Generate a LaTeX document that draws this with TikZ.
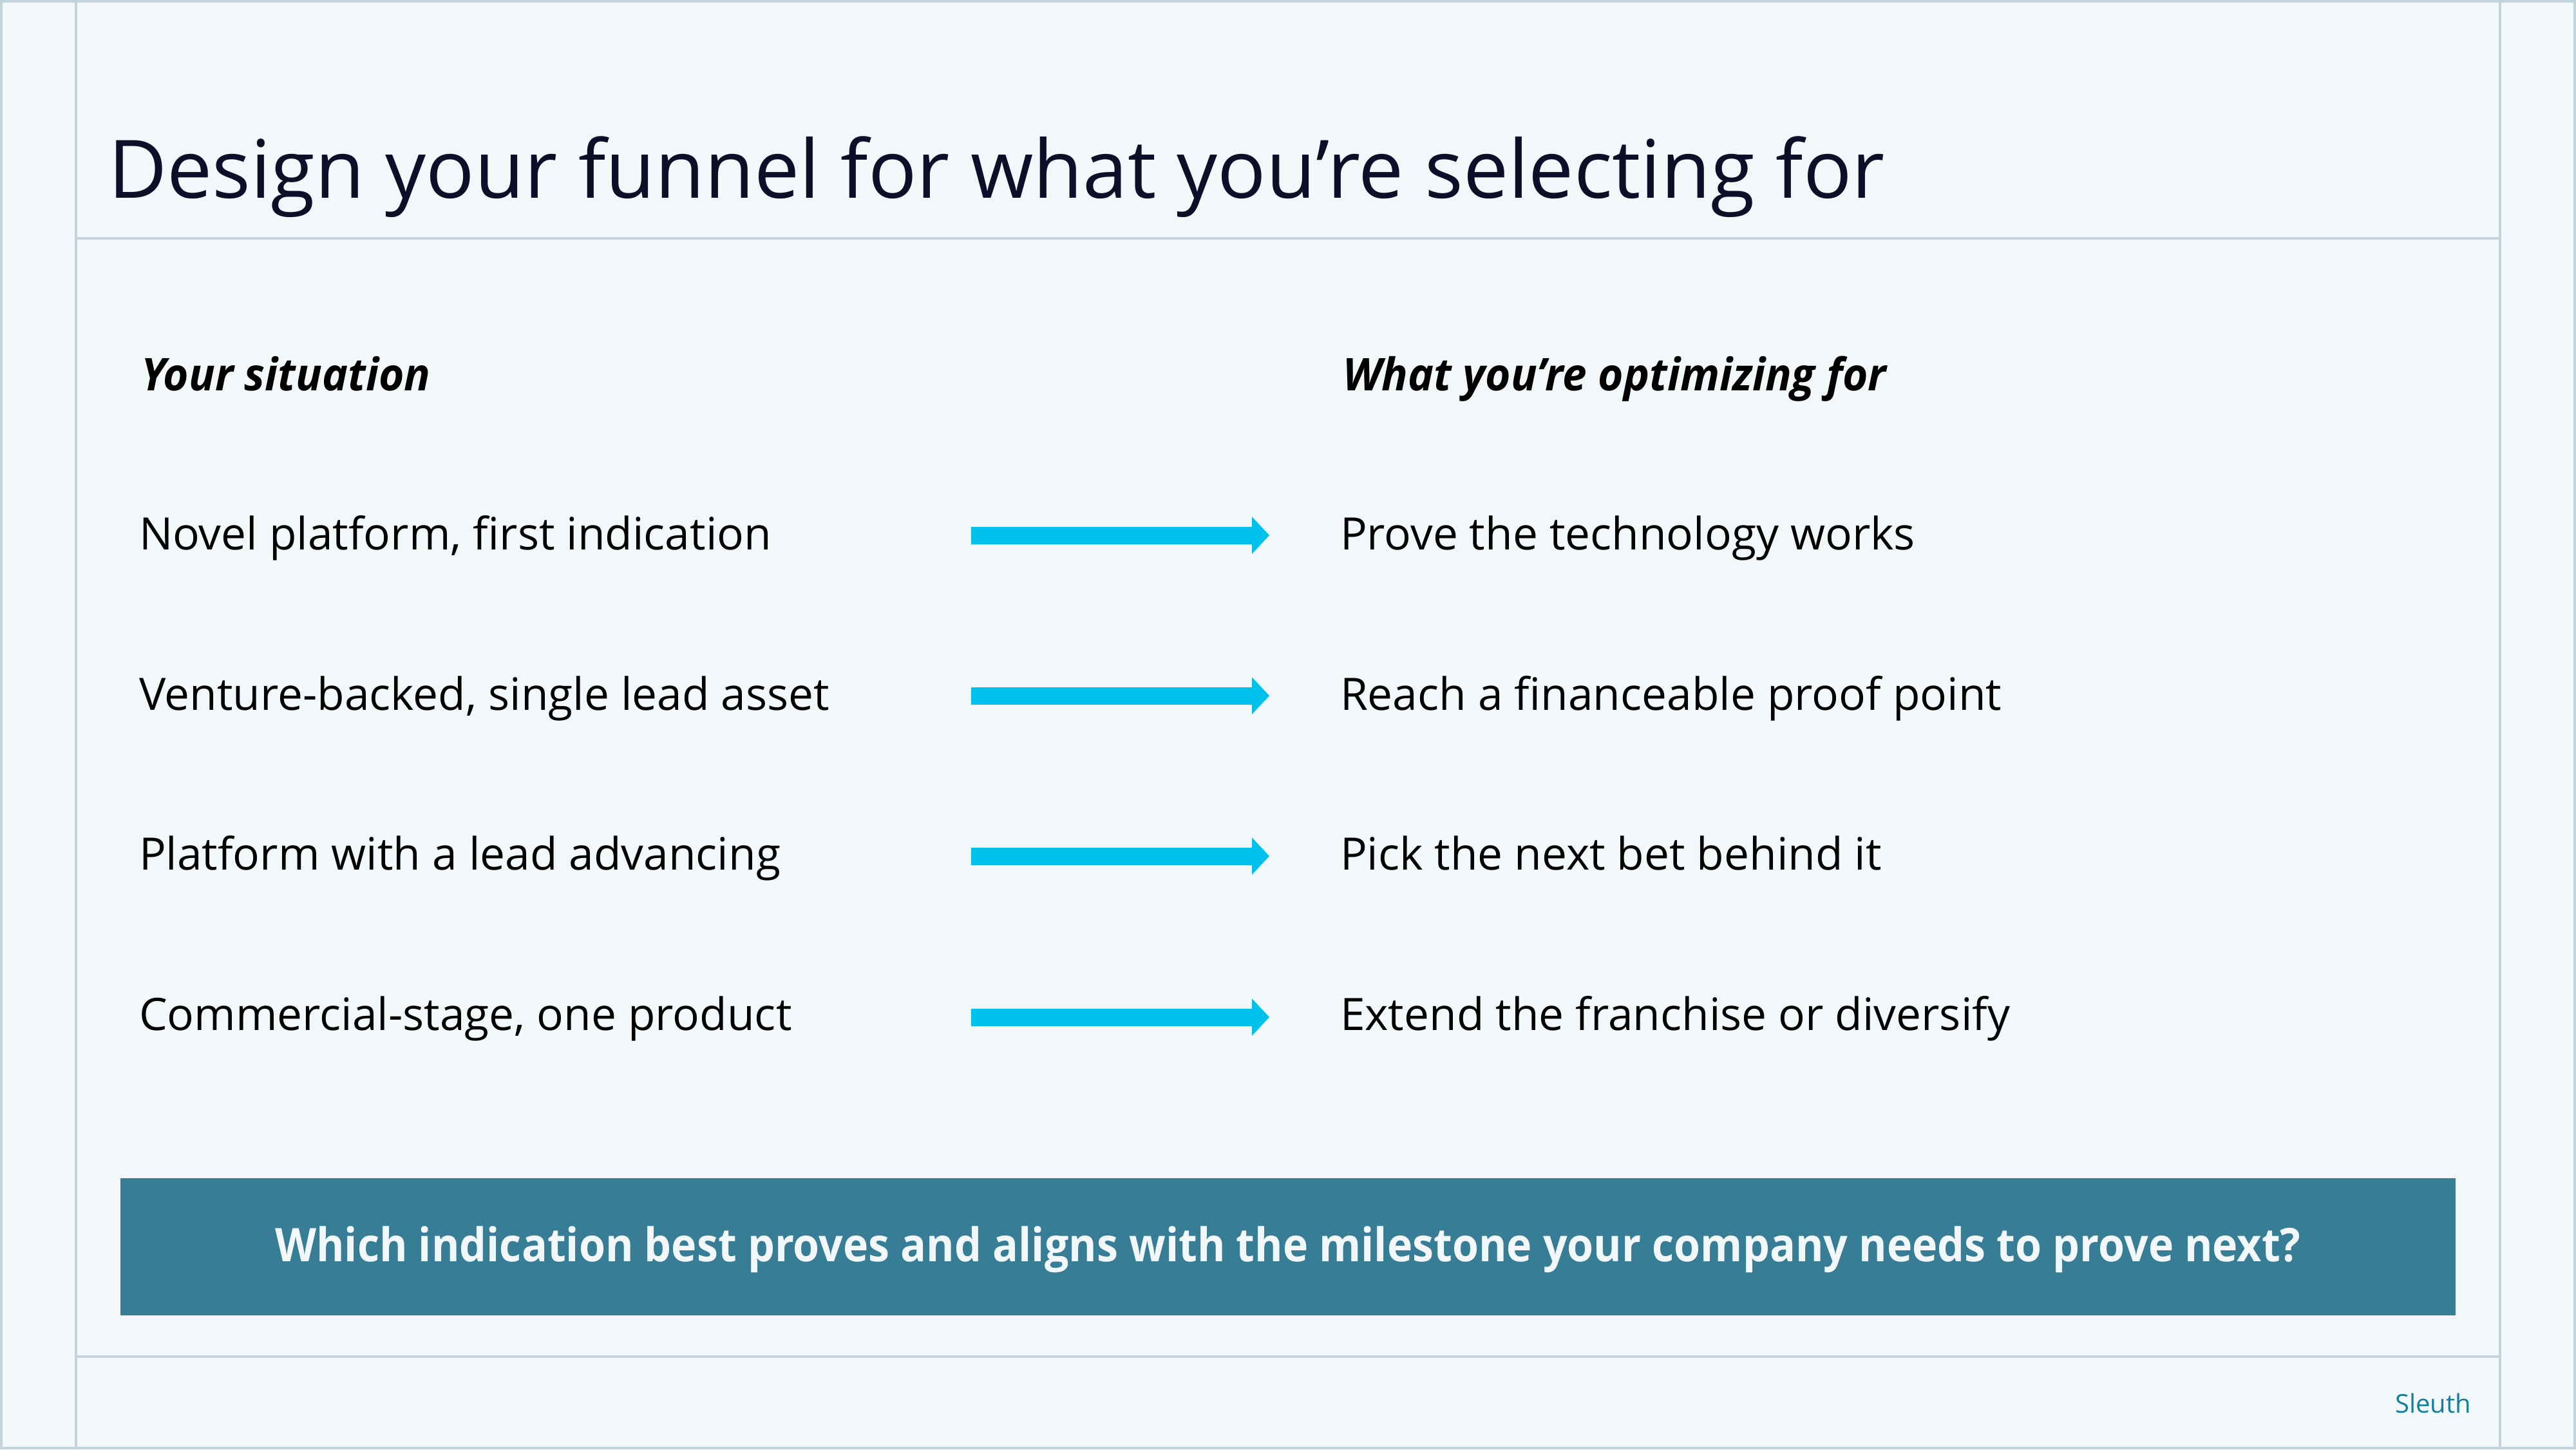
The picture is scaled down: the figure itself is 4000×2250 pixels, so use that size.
\documentclass[tikz,border=0pt]{standalone}
\usepackage{fontspec}
\setmainfont{Open Sans}
\newfontfamily\headfont{Open Sans}[FakeStretch=0.965]
\newfontfamily\barfont{Open Sans}[FakeStretch=0.921]
\usetikzlibrary{arrows.meta}
\definecolor{bgc}{HTML}{F2F7FA}
\definecolor{linec}{HTML}{C3D3DE}
\definecolor{titlec}{HTML}{0E0E28}
\definecolor{arrowc}{HTML}{00C0EC}
\definecolor{barc}{HTML}{377D96}
\definecolor{bartxt}{HTML}{F2F8FA}
\definecolor{sleuthc}{HTML}{157F9A}
\tikzset{
  frameline/.style={draw=linec, line width=1pt},
  txt/.style={anchor=base west, inner sep=0pt, outer sep=0pt},
  bodytxt/.style={txt, font=\fontsize{17.35pt}{21pt}\selectfont, text=black},
  headtxt/.style={txt, font=\headfont\fontsize{17.5pt}{21pt}\selectfont\bfseries\itshape, text=black},
  flowarrow/.style={draw=arrowc, line width=6.75pt, -{Triangle[width=14pt, length=6.75pt]}},
}
\begin{document}
\begin{tikzpicture}[x=0.25pt, y=-0.25pt]
\useasboundingbox (0,0) rectangle (4000,2250);
\fill[bgc] (0,0) rectangle (4000,2250);
\draw[frameline] (2,2) rectangle (3998,2248);
\draw[frameline] (117.5,0) -- (117.5,2250);
\draw[frameline] (3882,0) -- (3882,2250);
\draw[frameline] (117.5,370) -- (3882,370);
\draw[frameline] (117.5,2106) -- (3882,2106);

\node[txt, font=\fontsize{31.3pt}{36pt}\selectfont, text=titlec] (title) at (168,307) {Design your funnel for what you’re selecting for};

\node[headtxt] (hleft) at (219,606) {Your situation};
\node[headtxt] (hright) at (2085,606) {What you’re optimizing for};

\node[bodytxt] (l1) at (216,853) {Novel platform, first indication};
\node[bodytxt] (l2) at (216,1102) {Venture-backed, single lead asset};
\node[bodytxt] (l3) at (216,1350) {Platform with a lead advancing};
\node[bodytxt] (l4) at (216,1599) {Commercial-stage, one product};

\node[bodytxt] (r1) at (2081,853) {Prove the technology works};
\node[bodytxt] (r2) at (2081,1102) {Reach a financeable proof point};
\node[bodytxt] (r3) at (2081,1350) {Pick the next bet behind it};
\node[bodytxt] (r4) at (2081,1599) {Extend the franchise or diversify};

\coordinate (a1s) at (1508,831);  \coordinate (a1e) at (1971,831);
\coordinate (a2s) at (1508,1080); \coordinate (a2e) at (1971,1080);
\coordinate (a3s) at (1508,1329); \coordinate (a3e) at (1971,1329);
\coordinate (a4s) at (1508,1579); \coordinate (a4e) at (1971,1579);
\draw[flowarrow] (a1s) -- (a1e);
\draw[flowarrow] (a2s) -- (a2e);
\draw[flowarrow] (a3s) -- (a3e);
\draw[flowarrow] (a4s) -- (a4e);

\fill[barc] (187,1829) rectangle (3813,2042);
\node[anchor=base, inner sep=0pt, font=\barfont\fontsize{18pt}{22pt}\selectfont\bfseries, text=bartxt] (question) at (2000,1958) {Which indication best proves and aligns with the milestone your company needs to prove next?};

\node[txt, font=\fontsize{10pt}{12pt}\selectfont, text=sleuthc] (logo) at (3719,2193) {Sleuth};
\end{tikzpicture}
\end{document}
